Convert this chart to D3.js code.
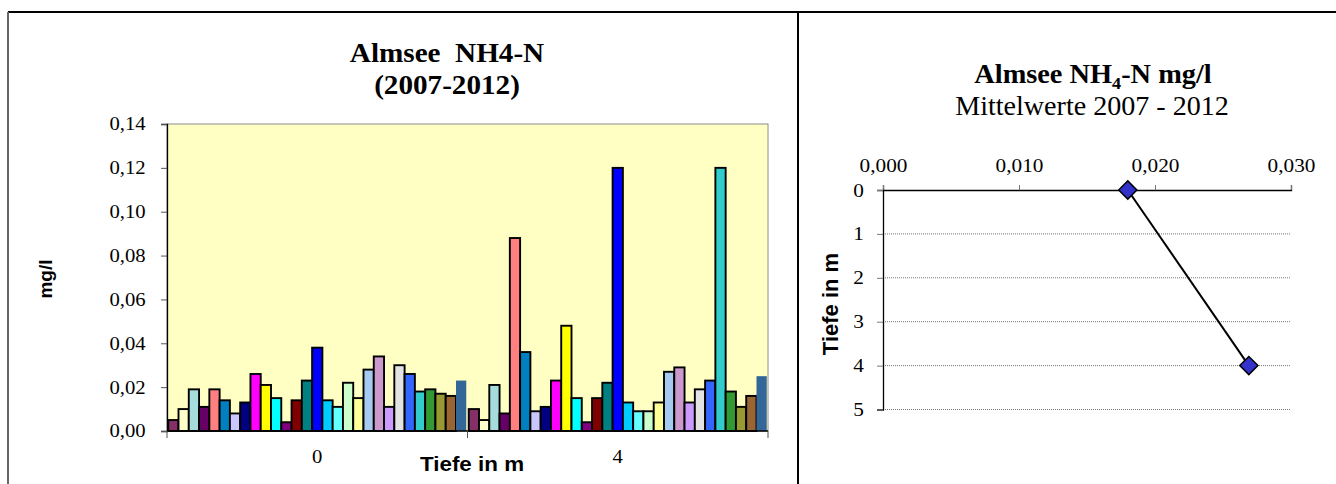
<!DOCTYPE html>
<html>
<head>
<meta charset="utf-8">
<script src="https://cdn.jsdelivr.net/npm/d3@7/dist/d3.min.js"></script>
<style>
  body { margin: 0; background: #fff; }
  svg { display: block; }
</style>
</head>
<body>
<svg id="chart" width="1336" height="484"></svg>
<script>
// depths (category axis of the bar chart)
var depths = ["0", "4"];

// NH4-N per sampling date, depth 0 m and depth 4 m (mg/l)
var values0 = [0.005, 0.010, 0.019, 0.011, 0.019, 0.014, 0.008, 0.013, 0.026, 0.021,
               0.015, 0.004, 0.014, 0.023, 0.038, 0.014, 0.011, 0.022, 0.015, 0.028,
               0.034, 0.011, 0.030, 0.026, 0.018, 0.019, 0.017, 0.016, 0.023];
var values4 = [0.010, 0.005, 0.021, 0.008, 0.088, 0.036, 0.009, 0.011, 0.023, 0.048,
               0.015, 0.004, 0.015, 0.022, 0.120, 0.013, 0.009, 0.009, 0.013, 0.027,
               0.029, 0.013, 0.019, 0.023, 0.120, 0.018, 0.011, 0.016, 0.025];

var seriesColors = ["#862f66", "#ffffcc", "#a6dcdc", "#660066", "#ff8080", "#0080c0",
                    "#c8c8ff", "#000080", "#ff00ff", "#ffff00", "#00ffff", "#800080",
                    "#800000", "#008080", "#0000ff", "#00ccff", "#66ffff", "#ccffcc",
                    "#ffff99", "#a6caf0", "#cc99cc", "#cc99ff", "#e3e3e3", "#3366ff",
                    "#33cccc", "#339933", "#999933", "#996633", "#336699"];

var yTicks = [0, 0.02, 0.04, 0.06, 0.08, 0.10, 0.12, 0.14];

// mean values 2007 - 2012
var meanDepth = [0, 4];
var meanValue = [0.0180, 0.0269];
var meanTicks = [0, 0.010, 0.020, 0.030];
var depthTicks = [0, 1, 2, 3, 4, 5];

var serif = "'Liberation Serif', 'Times New Roman', serif";
var sans = "'Liberation Sans', Arial, sans-serif";

var svg = d3.select("#chart");

// frame
svg.append("line").attr("x1", 8).attr("x2", 1336).attr("y1", 12).attr("y2", 12)
   .attr("stroke", "#000").attr("stroke-width", 2);
svg.append("line").attr("x1", 8).attr("x2", 8).attr("y1", 12).attr("y2", 484)
   .attr("stroke", "#666").attr("stroke-width", 2);
svg.append("line").attr("x1", 798).attr("x2", 798).attr("y1", 12).attr("y2", 484)
   .attr("stroke", "#000").attr("stroke-width", 2);

function label(g, x, y, str, size, weight, family, anchor, sx) {
    return g.append("text")
        .attr("transform", "translate(" + x + "," + y + ") scale(" + (sx || 1) + ",1)")
        .attr("text-anchor", anchor || "middle")
        .style("font-family", family)
        .style("font-size", size + "px")
        .style("font-weight", weight)
        .style("white-space", "pre")
        .text(str);
}

function comma(n) { return function(d) { return d.toFixed(n).replace(".", ","); }; }

// ---------- left: bar chart ----------
var left = {x0: 167, x1: 768, y0: 124, y1: 431};

var xCat = d3.scaleBand().domain(depths).range([left.x0, left.x1]).padding(0);
var xSer = d3.scaleBand().domain(d3.range(values0.length))
             .range([0, xCat.bandwidth()]).paddingInner(0).paddingOuter(0.12);
var yBar = d3.scaleLinear().domain([0, 0.14]).range([left.y1, left.y0]);

svg.append("rect")
   .attr("x", left.x0).attr("y", left.y0)
   .attr("width", left.x1 - left.x0).attr("height", left.y1 - left.y0)
   .attr("fill", "#ffffc4").attr("stroke", "#8c8c8c").attr("stroke-width", 1);

var bars = [];
depths.forEach(function(dep, k) {
    var vals = k === 0 ? values0 : values4;
    vals.forEach(function(v, i) { bars.push({dep: dep, i: i, v: v}); });
});

svg.append("g").selectAll("rect").data(bars).enter().append("rect")
   .attr("x", d => xCat(d.dep) + xSer(d.i))
   .attr("y", d => yBar(d.v))
   .attr("width", xSer.bandwidth())
   .attr("height", d => yBar(0) - yBar(d.v))
   .attr("fill", d => seriesColors[d.i])
   .attr("stroke", d => d.i === seriesColors.length - 1 ? "none" : "#000")
   .attr("stroke-width", 1.9);

var yAxisL = svg.append("g").attr("transform", "translate(" + left.x0 + ",0)")
    .call(d3.axisLeft(yBar).tickValues(yTicks).tickFormat(comma(2)).tickSize(6).tickPadding(13));
yAxisL.select(".domain").attr("stroke", "#000").attr("stroke-width", 1.3);
yAxisL.selectAll(".tick line").attr("stroke", "#555");
yAxisL.selectAll(".tick text")
    .style("font-family", serif).style("font-size", "18.5px").attr("fill", "#000")
    .attr("transform", "scale(1.12,1)");

// category axis
var xAxisL = svg.append("g").attr("transform", "translate(0," + left.y1 + ")");
xAxisL.append("line").attr("x1", left.x0).attr("x2", left.x1)
      .attr("stroke", "#000").attr("stroke-width", 1.3);
xAxisL.selectAll(".cb").data([left.x0, xCat("4"), left.x1]).enter().append("line")
      .attr("x1", d => d).attr("x2", d => d).attr("y1", 0).attr("y2", 7)
      .attr("stroke", "#555");
depths.forEach(function(dep) {
    label(svg, xCat(dep) + xCat.bandwidth() / 2, 463, dep, 18.5, "normal", serif, "middle", 1.12);
});

label(svg, 472, 471, "Tiefe in m", 20, "bold", sans, "middle", 1.12);
label(svg, 0, 0, "mg/l", 19, "bold", sans, "middle", 1)
    .attr("transform", "translate(52,279) rotate(-90)");

label(svg, 447, 62, "Almsee  NH4-N", 27, "bold", serif, "middle", 1.08);
label(svg, 447, 94, "(2007-2012)", 27, "bold", serif, "middle", 1.08);

// ---------- right: mean profile ----------
var right = {x0: 883, x1: 1291, y0: 190, y1: 409.5};
var xMean = d3.scaleLinear().domain([0, 0.03]).range([right.x0, right.x1]);
var yDepth = d3.scaleLinear().domain([0, 5]).range([right.y0, right.y1]);

svg.append("g").selectAll("line").data(depthTicks.slice(1)).enter().append("line")
   .attr("x1", right.x0).attr("x2", right.x1)
   .attr("y1", d => yDepth(d)).attr("y2", d => yDepth(d))
   .attr("stroke", "#777").attr("stroke-width", 1).attr("stroke-dasharray", "1,1");

var xAxisR = svg.append("g").attr("transform", "translate(0," + right.y0 + ")")
    .call(d3.axisTop(xMean).tickValues(meanTicks).tickFormat(comma(3)).tickSize(5).tickPadding(13));
xAxisR.select(".domain").attr("stroke", "#000").attr("stroke-width", 1.3);
xAxisR.selectAll(".tick line").attr("stroke", "#777");
xAxisR.selectAll(".tick text")
    .style("font-family", serif).style("font-size", "19px").attr("fill", "#000")
    .attr("transform", "scale(1.12,1)");

var yAxisR = svg.append("g").attr("transform", "translate(" + right.x0 + ",0)")
    .call(d3.axisLeft(yDepth).tickValues(depthTicks).tickFormat(d3.format("d")).tickSize(6).tickPadding(11));
yAxisR.select(".domain").attr("stroke", "#000").attr("stroke-width", 1.3);
yAxisR.selectAll(".tick line").attr("stroke", "#777");
yAxisR.selectAll(".tick text")
    .style("font-family", serif).style("font-size", "19px").attr("fill", "#000")
    .attr("transform", "scale(1.12,1)");

var pts = meanDepth.map((d, i) => ({depth: d, v: meanValue[i]}));
svg.append("path").datum(pts)
   .attr("d", d3.line().x(d => xMean(d.v)).y(d => yDepth(d.depth)))
   .attr("fill", "none").attr("stroke", "#000").attr("stroke-width", 2);
svg.append("g").selectAll("path").data(pts).enter().append("path")
   .attr("d", d3.symbol(d3.symbolSquare, 165))
   .attr("transform", d => "translate(" + xMean(d.v) + "," + yDepth(d.depth) + ") rotate(45)")
   .attr("fill", "#3333cc").attr("stroke", "#000").attr("stroke-width", 1.5);

var t1 = label(svg, 1093, 83, "", 26.5, "bold", serif, "middle", 1.07);
t1.append("tspan").text("Almsee NH");
t1.append("tspan").text("4").style("font-size", "17px").attr("dy", 6);
t1.append("tspan").text("-N mg/l").attr("dy", -6);
label(svg, 1092, 115, "Mittelwerte 2007 - 2012", 27, "normal", serif, "middle", 1.04);
label(svg, 0, 0, "Tiefe in m", 22, "bold", sans, "middle", 1)
    .attr("transform", "translate(838,304) rotate(-90)");
</script>
</body>
</html>
